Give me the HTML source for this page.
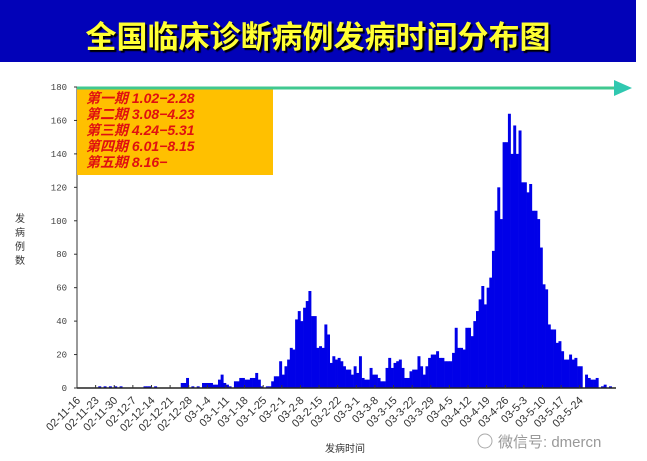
<!DOCTYPE html>
<html><head><meta charset="utf-8">
<style>
body{margin:0;width:647px;height:461px;overflow:hidden;background:#fff;font-family:"Liberation Sans","Noto Sans CJK SC",sans-serif;}
#title-bar{position:absolute;left:0;top:0;width:636px;height:62px;background:#0202b8;}
#title{position:absolute;left:0;top:12px;width:636px;text-align:center;font-size:31px;font-weight:bold;color:#ffff33;text-shadow:2px 2px 1px #000;letter-spacing:0px;font-family:"Noto Sans CJK SC",sans-serif;}
</style></head><body>
<div id="title-bar"></div>
<div id="title">全国临床诊断病例发病时间分布图</div>
<svg id="chart" width="647" height="461" style="position:absolute;left:0;top:0"></svg>
<script>
const yTicks=[0,20,40,60,80,100,120,140,160,180];
const xLabels=["02-11-16","02-11-23","02-11-30","02-12-7","02-12-14","02-12-21","02-12-28","03-1-4","03-1-11","03-1-18","03-1-25","03-2-1","03-2-8","03-2-15","03-2-22","03-3-1","03-3-8","03-3-15","03-3-22","03-3-29","03-4-5","03-4-12","03-4-19","03-4-26","03-5-3","03-5-10","03-5-17","03-5-24"];
const dailyCases=[
0,0,0,0,0,0,0,0,1,0,1,0,1,0,1,0,1,0,0,0,0,0,0,0,0,1,1,1,0,1,
0,0,0,0,0,0,0,0,0,3,3,6,0,1,0,1,0,3,3,3,3,2,2,5,8,3,2,1,0,4,
4,6,6,5,5,6,6,9,5,1,0,1,1,4,7,7,16,8,13,17,24,23,41,46,40,48,52,58,43,43,
24,25,24,38,32,15,19,17,18,16,13,11,11,8,13,9,19,6,5,5,12,8,8,6,4,4,12,18,12,15,
16,17,12,6,6,10,11,11,19,13,8,13,18,20,20,22,18,18,16,16,16,21,36,24,24,23,36,36,31,40,
46,53,61,50,60,66,82,106,120,101,147,147,164,140,157,140,154,123,123,117,122,106,106,101,84,62,59,38,35,35,
27,28,22,17,17,20,17,18,13,13,0,8,6,5,5,6,0,1,2,0,1];
const NS='http://www.w3.org/2000/svg';
const svg=document.getElementById('chart');
const x0=77,dayW=2.66,y0=388,yTop=87,yMax=180;
const xs=d=>x0+d*dayW;
const ys=v=>y0-(v/yMax)*(y0-yTop);
function mk(t,a){const e=document.createElementNS(NS,t);for(const k in a)e.setAttribute(k,a[k]);svg.appendChild(e);return e;}
dailyCases.forEach((v,i)=>{if(v<=0)return;
const r=mk('rect',{x:xs(i),y:ys(v),width:dayW+0.3,height:y0-ys(v),fill:'#0000e8'});

});
const ya=mk('line',{x1:x0,y1:yTop,x2:x0,y2:y0,stroke:'#333','stroke-width':1});


const xa=mk('line',{x1:x0,y1:y0,x2:616,y2:y0,stroke:'#222','stroke-width':1.5});


yTicks.forEach(v=>{
mk('line',{x1:x0-3,y1:ys(v),x2:x0,y2:ys(v),stroke:'#333'});
const t=mk('text',{x:x0-10,y:ys(v)+3,'font-size':9,'text-anchor':'end',fill:'#444','font-family':'Liberation Mono,monospace'});
t.textContent=v;

});
xLabels.forEach((l,i)=>{const x=xs(i*7);
mk('line',{x1:x,y1:y0,x2:x,y2:y0-3,stroke:'#333'});
const t=mk('text',{x:x+4,y:y0+13,'font-size':11,'text-anchor':'end',fill:'#333',transform:`rotate(-45 ${x+4} ${y0+13})`});
t.textContent=l;

});
</script>
<svg width="647" height="461" style="position:absolute;left:0;top:0">
<rect x="77" y="87" width="196" height="88" fill="#ffc000"/>
<line x1="77" y1="88" x2="616" y2="88" stroke="#40c890" stroke-width="3"/>
<polygon points="614,80 632,88 614,96" fill="#30c8b0"/>
<g font-size="14" font-weight="bold" font-style="italic" fill="#e01010" font-family="Liberation Sans,Noto Sans CJK SC,sans-serif">
<text x="86" y="103">第一期  1.02−2.28</text>
<text x="86" y="119">第二期  3.08−4.23</text>
<text x="86" y="135">第三期  4.24−5.31</text>
<text x="86" y="151">第四期  6.01−8.15</text>
<text x="86" y="167">第五期  8.16−</text>
</g>
<g font-size="10" fill="#333" font-family="Noto Sans CJK SC,sans-serif">
<text x="15" y="222">发</text><text x="15" y="236">病</text><text x="15" y="250">例</text><text x="15" y="264">数</text>
</g>
<text x="345" y="452" font-size="10" fill="#333" text-anchor="middle" font-family="Noto Sans CJK SC,sans-serif">发病时间</text>
<text x="498" y="447" font-size="15" fill="#999" font-family="Liberation Sans,Noto Sans CJK SC,sans-serif">微信号: dmercn</text>
<circle cx="485" cy="441" r="7" fill="none" stroke="#aaa"/>
</svg>
</body></html>
